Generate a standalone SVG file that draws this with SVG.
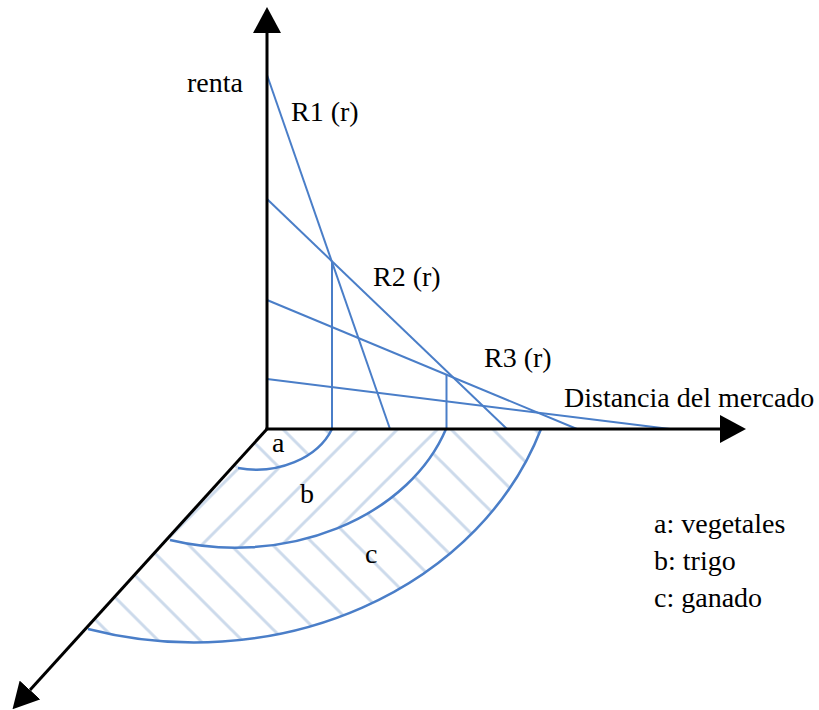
<svg xmlns="http://www.w3.org/2000/svg" width="819" height="710" viewBox="0 0 819 710">
  <style>
    .txt { font-family: "Liberation Serif", "Times New Roman", serif; font-size: 28px; fill: #000; }
    .axis { stroke: #000; stroke-width: 3; fill: none; }
    .rent { stroke: #4A7EC8; stroke-width: 2; fill: none; }
    .arc { stroke: #4A7EC8; stroke-width: 2.5; fill: none; }
    .hatch { stroke: #CCDAEB; stroke-width: 3; fill: none; }
  </style>
  <defs>
    <marker id="arrow" viewBox="0 0 26 28" refX="0" refY="14" markerWidth="26" markerHeight="28" markerUnits="userSpaceOnUse" orient="auto">
      <path d="M0,0 L26,14 L0,28 Z" fill="#000"/>
    </marker>
    <pattern id="hatchBack" patternUnits="userSpaceOnUse" x="21.7" y="0" width="42" height="42">
      <path class="hatch" d="M-21,-21 L63,63 M21,-21 L63,21 M-21,21 L21,63"/>
    </pattern>
    <pattern id="hatchFwd" patternUnits="userSpaceOnUse" x="26.7" y="0" width="40" height="40">
      <path class="hatch" d="M-20,60 L60,-20 M-20,20 L20,-20 M20,60 L60,20"/>
    </pattern>
  </defs>

  <g id="zones">
    <path id="zone-a" d="M267,429 L332,429 A81,63 0 0 1 238,468 L232,468 Z" fill="url(#hatchBack)"/>
    <path id="zone-b" d="M332,429 L446,429 A222,173 0 0 1 170,540 L166,540 L232,468 L238,468 A81,63 0 0 0 332,429 Z" fill="url(#hatchFwd)"/>
    <path id="zone-c" d="M446,429 L541,429 A365,311 0 0 1 88,629 L85,629 L166,540 L170,540 A222,173 0 0 0 446,429 Z" fill="url(#hatchBack)"/>
  </g>

  <g id="rent-lines">
    <line id="R1" class="rent" x1="267" y1="75" x2="390" y2="429"/>
    <line id="R2" class="rent" x1="267" y1="199" x2="507" y2="429"/>
    <line id="R3" class="rent" x1="267" y1="300" x2="577" y2="429"/>
    <line id="R4" class="rent" x1="267" y1="379" x2="670" y2="429"/>
    <line class="rent" x1="332" y1="262" x2="332" y2="429"/>
    <line class="rent" x1="446.5" y1="375" x2="446.5" y2="429"/>
  </g>

  <g id="arcs">
    <path id="arc-a" class="arc" d="M332,429 A81,63 0 0 1 238,468"/>
    <path id="arc-b" class="arc" d="M446,429 A222,173 0 0 1 170,540"/>
    <path id="arc-c" class="arc" d="M541,429 A365,311 0 0 1 88,629"/>
  </g>

  <g id="axes">
    <line class="axis" x1="267" y1="429" x2="267" y2="33" marker-end="url(#arrow)"/>
    <line class="axis" x1="265.5" y1="429" x2="720" y2="429" marker-end="url(#arrow)"/>
    <line class="axis" x1="267" y1="429" x2="30" y2="690" marker-end="url(#arrow)"/>
  </g>

  <g id="labels">
    <text class="txt" x="187" y="92">renta</text>
    <text class="txt" x="291" y="121">R1 (r)</text>
    <text class="txt" x="373" y="286">R2 (r)</text>
    <text class="txt" x="484" y="367">R3 (r)</text>
    <text class="txt" x="564" y="407">Distancia del mercado</text>
    <text class="txt" x="272" y="452">a</text>
    <text class="txt" x="300" y="503">b</text>
    <text class="txt" x="365" y="563">c</text>
  </g>

  <g id="legend">
    <text class="txt" x="654" y="533">a: vegetales</text>
    <text class="txt" x="654" y="570">b: trigo</text>
    <text class="txt" x="654" y="607">c: ganado</text>
  </g>
</svg>
